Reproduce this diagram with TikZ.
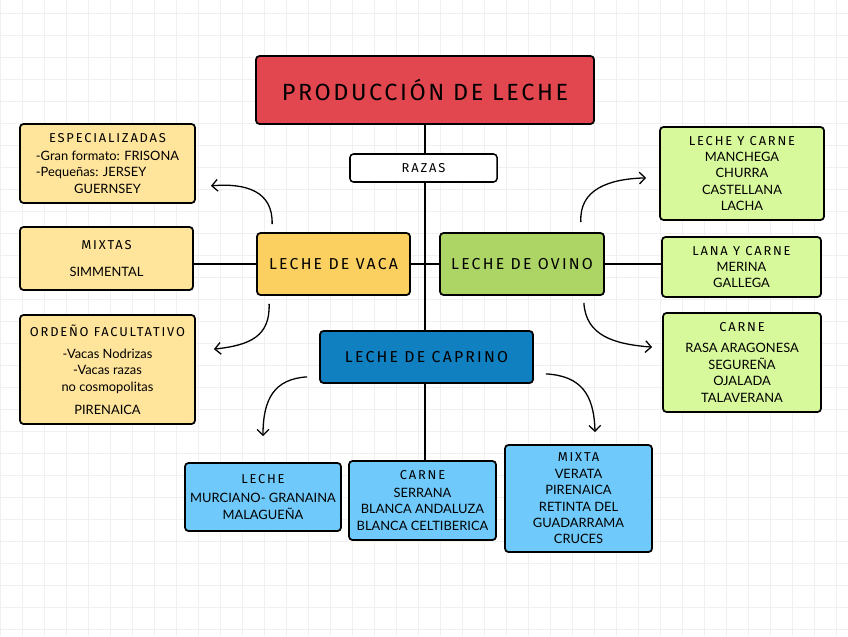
\documentclass[tikz,border=0pt]{standalone}
\usepackage{fontspec}
\usepackage{calc}
\setmainfont{Lato}
\newfontfamily\headfont[LetterSpace=14]{Fira Sans}
\newfontfamily\titfont[LetterSpace=11]{Fira Sans}
\usetikzlibrary{arrows.meta}
\definecolor{rojo}{HTML}{E2474F}
\definecolor{vacaosc}{HTML}{FCD060}
\definecolor{vacacla}{HTML}{FFE49C}
\definecolor{ovinoosc}{HTML}{ADD565}
\definecolor{ovinocla}{HTML}{D8F99B}
\definecolor{caprosc}{HTML}{1180C1}
\definecolor{caprcla}{HTML}{6FCAFB}
\tikzset{
  caja/.style={draw=black,line width=1.5pt,rounded corners=3pt,align=center,inner sep=0pt,
    font=\fontsize{11}{14}\selectfont},
  tema/.style={caja,font=\headfont\fontsize{13.5}{15}\selectfont},
  flecha/.style={line width=1.1pt,-{Straight Barb[length=5pt,width=10pt,line width=1.1pt]}},
  rama/.style={line width=1.1pt}
}
\newcommand{\tit}[1]{{\headfont\fontsize{11}{13}\selectfont #1}}
\begin{document}
\begin{tikzpicture}[x=0.03cm,y=-0.03cm]
\useasboundingbox (0,0) rectangle (848,636);
\fill[white] (0,0) rectangle (848,636);
% cuadricula
\foreach \i in {0,...,38} \draw[gray!12,line width=0.6pt] (22*\i,0) -- (22*\i,636);
\foreach \j in {0,...,28} \draw[gray!12,line width=0.6pt] (0,13+22*\j) -- (848,13+22*\j);
% nodos principales
\node[tema,fill=rojo,minimum width=10.14cm,minimum height=2.04cm,font=\titfont\fontsize{20}{22}\selectfont] (titulo) at (425,90) {PRODUCCIÓN DE LECHE};
\node[caja,fill=white,minimum width=4.41cm,minimum height=0.84cm,line width=1.3pt] (razas) at (423.5,168) {\tit{RAZAS}};
\node[tema,fill=vacaosc,minimum width=4.59cm,minimum height=1.86cm] (vaca) at (333.5,264) {LECHE DE VACA};
\node[tema,fill=ovinoosc,minimum width=4.92cm,minimum height=1.86cm] (ovino) at (522,264) {LECHE DE OVINO};
\node[tema,fill=caprosc,minimum width=6.39cm,minimum height=1.56cm] (caprino) at (426.5,357) {LECHE DE CAPRINO};
% vaca
\node[caja,fill=vacacla,minimum width=5.25cm,minimum height=2.37cm] (espec) at (107.5,163.5)
  {\tit{ESPECIALIZADAS}\\[1pt] -Gran formato: FRISONA\\ \makebox[\widthof{-Gran formato: FRISONA}][l]{-Pequeñas: JERSEY}\\ GUERNSEY};
\node[caja,fill=vacacla,minimum width=5.19cm,minimum height=1.89cm] (mixtas) at (106.5,258.5)
  {\tit{MIXTAS}\\[9pt] SIMMENTAL};
\node[caja,fill=vacacla,minimum width=5.25cm,minimum height=3.27cm] (ordeno) at (107.5,369.5)
  {\tit{ORDEÑO FACULTATIVO}\\[5pt] -Vacas Nodrizas\\ -Vacas razas\\ no cosmopolitas\\[6pt] PIRENAICA};
% ovino
\node[caja,fill=ovinocla,minimum width=4.92cm,minimum height=2.79cm] (lyc) at (742,173.5)
  {\tit{LECHE Y CARNE}\\ MANCHEGA\\ CHURRA\\ CASTELLANA\\ LACHA};
\node[caja,fill=ovinocla,minimum width=4.77cm,minimum height=1.8cm] (lana) at (741.5,267)
  {\tit{LANA Y CARNE}\\ MERINA\\ GALLEGA};
\node[caja,fill=ovinocla,minimum width=4.74cm,minimum height=2.97cm] (carneov) at (742,362.5)
  {\tit{CARNE}\\[4pt] RASA ARAGONESA\\ SEGUREÑA\\ OJALADA\\ TALAVERANA};
% caprino
\node[caja,fill=caprcla,minimum width=4.68cm,minimum height=2.04cm] (lechecap) at (263,497)
  {\tit{LECHE}\\[2pt] MURCIANO- GRANAINA\\ MALAGUEÑA};
\node[caja,fill=caprcla,minimum width=4.41cm,minimum height=2.37cm] (carnecap) at (422.5,500.5)
  {\tit{CARNE}\\[1pt] SERRANA\\ BLANCA ANDALUZA\\ BLANCA CELTIBERICA};
\node[caja,fill=caprcla,minimum width=4.41cm,minimum height=3.21cm] (mixta) at (578.5,498.5)
  {\tit{MIXTA}\\ VERATA\\ PIRENAICA\\ RETINTA DEL\\ GUADARRAMA\\ CRUCES};
% ramas
\draw[rama] (titulo.south) -- (titulo.south |- razas.north);
\draw[rama] (razas.south -| titulo.south) -- (caprino.north -| titulo.south);
\draw[rama] (vaca.east) -- (ovino.west);
\draw[rama] (vaca.west) -- (vaca.west -| mixtas.east);
\draw[rama] (ovino.east) -- (ovino.east -| lana.west);
\draw[rama] (caprino.south -| titulo.south) -- (carnecap.north -| titulo.south);
% flechas
\draw[flecha] ([shift={(16,-8)}]vaca.north west) .. controls +(1,-33) and +(35,-3) .. ([shift={(15,-18)}]espec.south east);
\draw[flecha] ([shift={(13,8)}]vaca.south west) .. controls +(1,32) and +(37,-4) .. ([shift={(18,35)}]ordeno.north east);
\draw[flecha] ([shift={(-24,-10)}]ovino.north east) .. controls +(-2,-33) and +(-37,1) .. ([shift={(-13,-43)}]lyc.south west);
\draw[flecha] ([shift={(-21,7)}]ovino.south east) .. controls +(2,33) and +(-38,-3) .. ([shift={(-10,35)}]carneov.north west);
\draw[flecha] ([shift={(-12,-7)}]caprino.south west) .. controls +(-33,2) and +(0,-37) .. ([shift={(0,-26)}]lechecap.north);
\draw[flecha] ([shift={(12,-10)}]caprino.south east) .. controls +(35,2) and +(-1,-38) .. ([shift={(16.5,-12)}]mixta.north);
\end{tikzpicture}
\end{document}
